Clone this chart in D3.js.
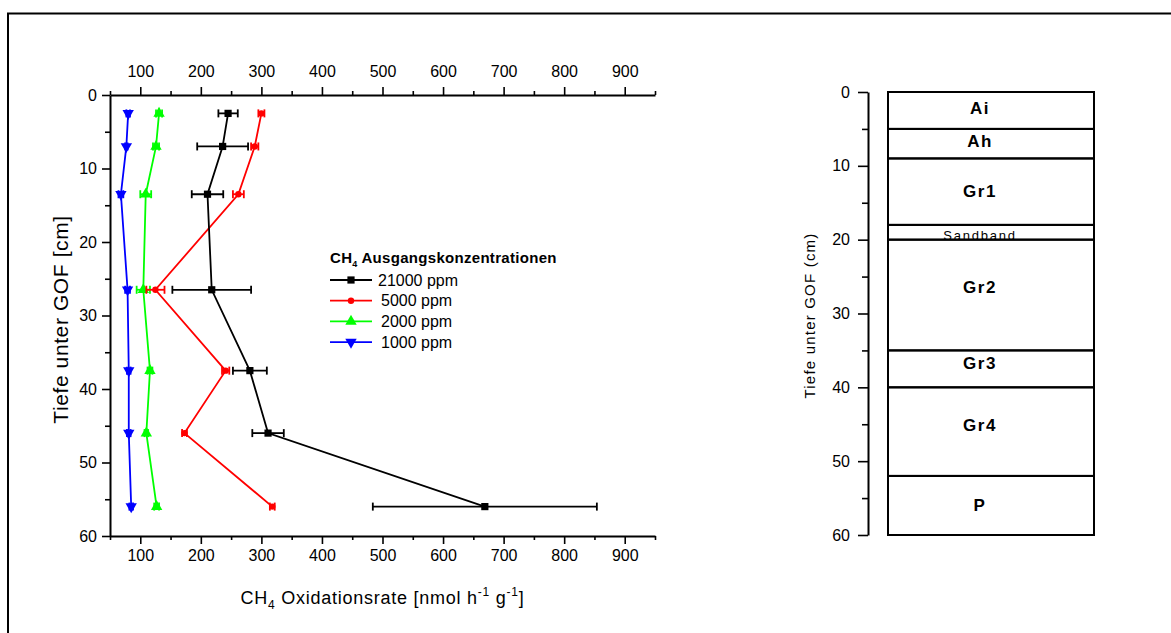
<!DOCTYPE html>
<html><head><meta charset="utf-8">
<script src="https://cdn.jsdelivr.net/npm/d3@7"></script>
<style>
html,body{margin:0;padding:0;background:#fff;}
svg{display:block;font-family:Arial,"Liberation Sans",sans-serif;}
</style></head>
<body>
<script>
// ---------- data ----------
const depths = [2.5, 7, 13.5, 26.5, 37.5, 46, 56];
const series = ["21000 ppm", "5000 ppm", "2000 ppm", "1000 ppm"];
const rate21000 = [245, 236, 211, 218, 281, 311, 669];
const err21000  = [16, 42, 26, 65, 28, 26, 185];
const rate5000  = [300, 289, 262, 125, 241, 173, 318];
const err5000   = [5, 6, 9, 15, 6, 4, 4];
const rate2000  = [131, 126, 109, 105, 116, 110, 127];
const err2000   = [5, 5, 9, 11, 4, 3, 4];
const rate1000  = [80, 77, 68, 79, 81, 81, 85];
const err1000   = [3, 2, 4, 4, 3, 3, 3];
const xTicks = [100, 200, 300, 400, 500, 600, 700, 800, 900];
const xMinor = [50, 150, 250, 350, 450, 550, 650, 750, 850, 950];
const yTicks = [0, 10, 20, 30, 40, 50, 60];
const yMinor = [5, 15, 25, 35, 45, 55];
// soil horizons
const horizonNames = ["Ai", "Ah", "Gr1", "Sandband", "Gr2", "Gr3", "Gr4", "P"];
const horizonTop    = [0, 5, 9, 18, 20, 35, 40, 52];
const horizonBottom = [5, 9, 18, 20, 35, 40, 52, 60];
const horizonLabelDepth = [2.2, 6.6, 13.4, 19.4, 26.4, 36.7, 45.1, 55.9];

const W = 1171, H = 633;
const svg = d3.select("body").append("svg").attr("width", W).attr("height", H);
svg.append("rect").attr("width", W).attr("height", H).attr("fill", "#fff");

// outer frame
svg.append("path").attr("d", `M8,${H} V13.5 H${W}`).attr("fill", "none")
  .attr("stroke", "#000").attr("stroke-width", 2);

// ---------- left chart ----------
const x = d3.scaleLinear().domain([50, 950]).range([110, 655]);
const y = d3.scaleLinear().domain([0, 60]).range([95, 536]);
const colors = ["#000000", "#ff0000", "#00ff00", "#0000ff"];
const rates = [rate21000, rate5000, rate2000, rate1000];
const errs = [err21000, err5000, err2000, err1000];
const symbols = [d3.symbolSquare, d3.symbolCircle, d3.symbolTriangle, d3.symbolTriangle];
const symSize = [52, 32, 56, 56];
const symRot = [0, 0, 0, 180];

function styleAxis(g, fs) {
  g.select(".domain").attr("stroke-width", 2);
  g.selectAll(".tick line").attr("stroke-width", 1.6);
  g.selectAll(".tick text").attr("font-size", fs).attr("font-family", "Arial,'Liberation Sans',sans-serif").attr("fill", "#000");
}

// top axis
const gTop = svg.append("g").attr("transform", `translate(0,${y(0)})`)
  .call(d3.axisTop(x).tickValues(xTicks).tickSize(8).tickSizeOuter(0).tickPadding(10).tickFormat(d3.format("d")));
styleAxis(gTop, 16);
svg.append("g").attr("transform", `translate(0,${y(0)})`)
  .call(d3.axisTop(x).tickValues(xMinor).tickSize(4).tickSizeOuter(0).tickFormat(""))
  .call(g => { g.select(".domain").remove(); g.selectAll("line").attr("stroke-width", 1.6); });

// bottom axis
const gBot = svg.append("g").attr("transform", `translate(0,${y(60)})`)
  .call(d3.axisBottom(x).tickValues(xTicks).tickSize(8).tickSizeOuter(0).tickPadding(6).tickFormat(d3.format("d")));
styleAxis(gBot, 16);
svg.append("g").attr("transform", `translate(0,${y(60)})`)
  .call(d3.axisBottom(x).tickValues(xMinor).tickSize(4).tickSizeOuter(0).tickFormat(""))
  .call(g => { g.select(".domain").remove(); g.selectAll("line").attr("stroke-width", 1.6); });

// left axis
const gLeft = svg.append("g").attr("transform", `translate(${x(50)},0)`)
  .call(d3.axisLeft(y).tickValues(yTicks).tickSize(8).tickSizeOuter(0).tickPadding(5));
styleAxis(gLeft, 16);
svg.append("g").attr("transform", `translate(${x(50)},0)`)
  .call(d3.axisLeft(y).tickValues(yMinor).tickSize(5).tickSizeOuter(0).tickFormat(""))
  .call(g => { g.select(".domain").remove(); g.selectAll("line").attr("stroke-width", 1.6); });

// axis titles
svg.append("text").attr("transform", `translate(68,${(y(0) + y(60)) / 2 + 4}) rotate(-90)`)
  .attr("text-anchor", "middle").attr("font-size", 21).attr("letter-spacing", 0.6)
  .text("Tiefe unter GOF [cm]");

const xt = svg.append("text").attr("x", (x(50) + x(950)) / 2).attr("y", 604)
  .attr("text-anchor", "middle").attr("font-size", 18).attr("letter-spacing", 0.75);
xt.append("tspan").text("CH");
xt.append("tspan").attr("dy", 5).attr("font-size", 12).text("4");
xt.append("tspan").attr("dy", -5).text(" Oxidationsrate [nmol h");
xt.append("tspan").attr("dy", -8).attr("font-size", 12).text("-1");
xt.append("tspan").attr("dy", 8).text(" g");
xt.append("tspan").attr("dy", -8).attr("font-size", 12).text("-1");
xt.append("tspan").attr("dy", 8).text("]");

// series (draw in reverse so black on top)
const line = d3.line().x(d => x(d[0])).y(d => y(d[1]));
for (let s = series.length - 1; s >= 0; s--) {
  const pts = rates[s].map((r, i) => [r, depths[i], errs[s][i]]);
  const g = svg.append("g");
  g.append("path").datum(pts).attr("d", line).attr("fill", "none")
    .attr("stroke", colors[s]).attr("stroke-width", 1.8);
  // error bars
  const eb = g.selectAll(".eb").data(pts).enter().append("g");
  eb.append("line").attr("x1", d => x(d[0] - d[2])).attr("x2", d => x(d[0] + d[2]))
    .attr("y1", d => y(d[1])).attr("y2", d => y(d[1])).attr("stroke", colors[s]).attr("stroke-width", 1.8);
  eb.append("line").attr("x1", d => x(d[0] - d[2])).attr("x2", d => x(d[0] - d[2]))
    .attr("y1", d => y(d[1]) - 4).attr("y2", d => y(d[1]) + 4).attr("stroke", colors[s]).attr("stroke-width", 1.8);
  eb.append("line").attr("x1", d => x(d[0] + d[2])).attr("x2", d => x(d[0] + d[2]))
    .attr("y1", d => y(d[1]) - 4).attr("y2", d => y(d[1]) + 4).attr("stroke", colors[s]).attr("stroke-width", 1.8);
  g.selectAll(".m").data(pts).enter().append("path")
    .attr("d", d3.symbol().type(symbols[s]).size(symSize[s]))
    .attr("transform", d => `translate(${x(d[0])},${y(d[1])}) rotate(${symRot[s]})`)
    .attr("fill", colors[s]);
}

// legend
const lg = svg.append("g");
const lt = lg.append("text").attr("x", 330).attr("y", 263).attr("font-size", 15)
  .attr("font-weight", "bold").attr("letter-spacing", 0.3);
lt.append("tspan").text("CH");
lt.append("tspan").attr("dy", 4).attr("font-size", 9).text("4");
lt.append("tspan").attr("dy", -4).text(" Ausgangskonzentrationen");
series.forEach((name, s) => {
  const yy = 280 + s * 20.7;
  lg.append("line").attr("x1", 330).attr("x2", 372).attr("y1", yy).attr("y2", yy)
    .attr("stroke", colors[s]).attr("stroke-width", 1.8);
  lg.append("path").attr("d", d3.symbol().type(symbols[s]).size(symSize[s]))
    .attr("transform", `translate(351,${yy}) rotate(${symRot[s]})`).attr("fill", colors[s]);
  lg.append("text").attr("x", s === 0 ? 378 : 381).attr("y", yy + 5.5).attr("font-size", 16).text(name);
});

// ---------- right chart: soil profile ----------
const y2 = d3.scaleLinear().domain([0, 60]).range([92, 535]);
const bx0 = 888, bx1 = 1094, labelX = 980;
const gR = svg.append("g").attr("transform", "translate(868,0)")
  .call(d3.axisLeft(y2).tickValues(yTicks).tickSize(10).tickSizeOuter(0).tickPadding(8));
styleAxis(gR, 16);
svg.append("g").attr("transform", "translate(868,0)")
  .call(d3.axisLeft(y2).tickValues(yMinor).tickSize(6).tickSizeOuter(0).tickFormat(""))
  .call(g => { g.select(".domain").remove(); g.selectAll("line").attr("stroke-width", 1.6); });

svg.append("text").attr("transform", `translate(815,${(y2(0) + y2(60)) / 2 + 2}) rotate(-90)`)
  .attr("text-anchor", "middle").attr("font-size", 15).attr("letter-spacing", 1.2)
  .text("Tiefe unter GOF (cm)");

horizonNames.forEach((n, i) => {
  const sand = n === "Sandband";
  svg.append("text").attr("x", labelX).attr("y", y2(horizonLabelDepth[i]))
    .attr("dy", "0.35em").attr("text-anchor", "middle")
    .attr("font-size", sand ? 13 : 17).attr("font-weight", sand ? "normal" : "bold")
    .attr("letter-spacing", sand ? 1.8 : 1.5).text(n);
});
horizonNames.forEach((n, i) => {
  svg.append("rect").attr("x", bx0).attr("y", y2(horizonTop[i]))
    .attr("width", bx1 - bx0).attr("height", y2(horizonBottom[i]) - y2(horizonTop[i]))
    .attr("fill", "none").attr("stroke", "#000").attr("stroke-width", 2);
});
</script>
</body></html>
